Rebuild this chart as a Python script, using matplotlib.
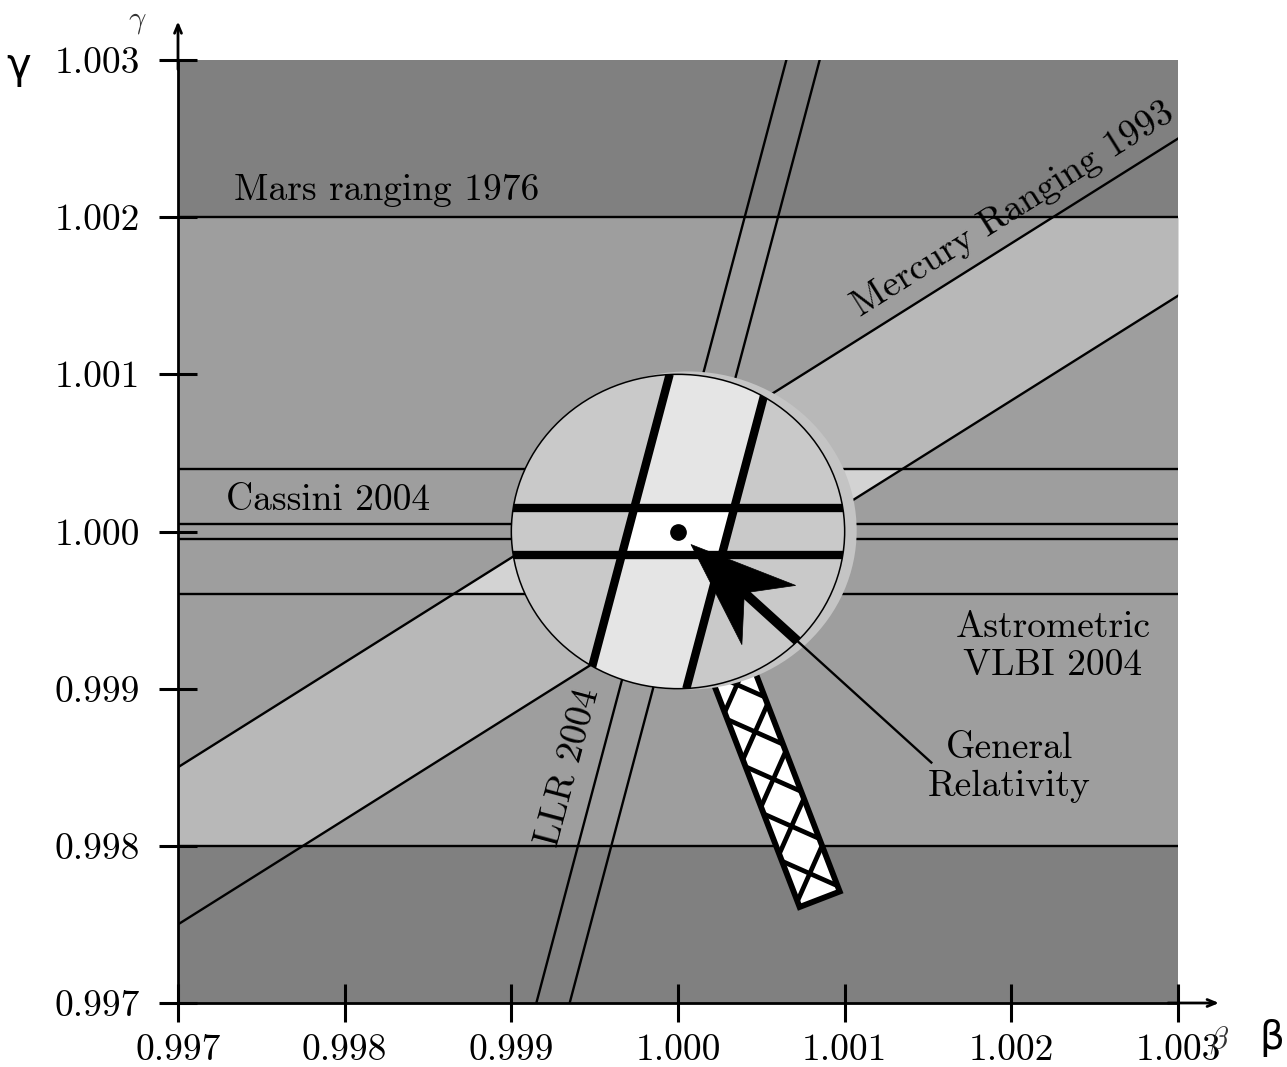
import numpy as np
import matplotlib
matplotlib.use("Agg")
import matplotlib.pyplot as plt
from matplotlib.patches import Ellipse, Polygon
from matplotlib.lines import Line2D

plt.rcParams['mathtext.fontset'] = 'cm'

# ---------------- data ----------------
beta_ticks = [0.997, 0.998, 0.999, 1.000, 1.001, 1.002, 1.003]
gamma_ticks = [0.997, 0.998, 0.999, 1.000, 1.001, 1.002, 1.003]
tick_labels = ["0.997", "0.998", "0.999", "1.000", "1.001", "1.002", "1.003"]

mars_gamma = [0.998, 1.002]          # Mars ranging 1976
vlbi_gamma = [0.9996, 1.0004]        # Astrometric VLBI 2004
cassini_gamma = [0.99995, 1.00005]   # Cassini 2004
mercury_slope = 2.0 / 3.0            # gamma-1 = slope*(beta-1) +/- halfwidth
mercury_halfwidth = 0.0005
llr_slope = 0.25                     # beta-1 = slope*(gamma-1) +/- halfwidth
llr_halfwidth = 0.0001
gr_point = (1.0, 1.0)                # General Relativity
zoom_radius = 0.001                  # magnifier lens (data units)
zoom_gamma_halfwidth = 0.00015       # magnified Cassini band
zoom_llr_halfwidth = 0.0003          # magnified LLR band

# ---------------- figure ----------------
fig = plt.figure(figsize=(12.87, 10.67), dpi=100)
ax = fig.add_axes([178 / 1287, 64 / 1067, 1000 / 1287, 943 / 1067])
lo_lim, hi_lim = beta_ticks[0], beta_ticks[-1]
ax.set_xlim(lo_lim, hi_lim)
ax.set_ylim(gamma_ticks[0], gamma_ticks[-1])

C_OUT = '#808080'
C_MARS = '#9e9e9e'
C_MERC = '#b8b8b8'
C_MERC_VLBI = '#d3d3d3'
ax.set_facecolor(C_OUT)

FONT = 'cmr10'
FS = 27

# bands
ax.axhspan(mars_gamma[0], mars_gamma[1], color=C_MARS, lw=0, zorder=0.5)
xs = np.linspace(lo_lim, hi_lim, 1201)
m_lo = 1 + mercury_slope * (xs - 1) - mercury_halfwidth
m_hi = 1 + mercury_slope * (xs - 1) + mercury_halfwidth
a = np.maximum(m_lo, mars_gamma[0]); b = np.minimum(m_hi, mars_gamma[1])
ax.fill_between(xs, a, b, where=b > a, interpolate=True, color=C_MERC, lw=0, zorder=0.6)
a2 = np.maximum(m_lo, vlbi_gamma[0]); b2 = np.minimum(m_hi, vlbi_gamma[1])
ax.fill_between(xs, a2, b2, where=b2 > a2, interpolate=True, color=C_MERC_VLBI, lw=0, zorder=0.7)

# thin lines
LW = 1.7
for g in mars_gamma + vlbi_gamma + cassini_gamma:
    ax.axhline(g, color='black', lw=LW, zorder=2)
ax.plot(xs, m_lo, color='black', lw=LW, zorder=2)
ax.plot(xs, m_hi, color='black', lw=LW, zorder=2)
gs = np.array([gamma_ticks[0], gamma_ticks[-1]])
ax.plot(1 + llr_slope * (gs - 1) - llr_halfwidth, gs, color='black', lw=LW, zorder=2)
ax.plot(1 + llr_slope * (gs - 1) + llr_halfwidth, gs, color='black', lw=LW, zorder=2)

def to_disp(p):
    return ax.transData.transform(np.atleast_2d(p))

def to_data(P):
    return ax.transData.inverted().transform(np.atleast_2d(P))

def line_angle(p1, p2):
    d = to_disp([p1, p2])
    return np.degrees(np.arctan2(d[1, 1] - d[0, 1], d[1, 0] - d[0, 0]))

# labels
ax.text(0.99825, 1.00217, "Mars ranging 1976", ha='center', va='center',
        fontsize=FS, family=FONT, zorder=3)
ax.text(0.99790, 1.00020, "Cassini 2004", ha='center', va='center',
        fontsize=FS, family=FONT, zorder=3)
ax.text(1.00225, 0.99927, "Astrometric\nVLBI 2004", ha='center', va='center',
        fontsize=FS, family=FONT, zorder=3, linespacing=1.2)
ax.text(1.00199, 0.99850, "General\nRelativity", ha='center', va='center',
        fontsize=FS, family=FONT, zorder=3, linespacing=1.2)
ang_m = line_angle((lo_lim, 1 + mercury_slope * (lo_lim - 1)), (hi_lim, 1 + mercury_slope * (hi_lim - 1)))
ax.text(1.00201, 1.00205, "Mercury Ranging 1993", ha='center', va='center', rotation=ang_m,
        rotation_mode='anchor', fontsize=FS, family=FONT, zorder=3)
ang_l = line_angle((1 + llr_slope * (gs[0] - 1), gs[0]), (1 + llr_slope * (gs[1] - 1), gs[1]))
ax.text(0.99934, 0.99850, "LLR 2004", ha='center', va='center', rotation=ang_l,
        rotation_mode='anchor', fontsize=FS, family=FONT, zorder=3)

# ---------------- magnifier ----------------
cx, cy = gr_point
C = to_disp(gr_point)[0]
# handle
HANDLE_END = (1.00085, 0.99766)
E = to_disp(HANDLE_END)[0]
ua = (E - C) / np.linalg.norm(E - C)
un = np.array([-ua[1], ua[0]])
hw = 21.5
hpts = np.array([C + hw * un, E + hw * un, E - hw * un, C - hw * un])
handle = Polygon(to_data(hpts), closed=True, facecolor='white', edgecolor='none', zorder=4)
ax.add_patch(handle)
for k in range(-6, 6):
    P0 = C + (214.7 + 50.6 * k) * ua
    for sgn in (1, -1):
        seg = np.array([P0 - 70 * (ua + sgn * un), P0 + 70 * (ua + sgn * un)])
        sd = to_data(seg)
        ln = Line2D(sd[:, 0], sd[:, 1], color='black', lw=3.4, zorder=4.1)
        ax.add_line(ln)
        ln.set_clip_path(handle)
ax.add_patch(Polygon(to_data(hpts), closed=True, facecolor='none', edgecolor='black',
                     lw=4.2, joinstyle='miter', zorder=4.2))

# shadow ring
shadow_off = to_data(C + np.array([10.0, 1.0]))[0]
ax.add_patch(Ellipse(shadow_off, 2 * zoom_radius * 1.012, 2 * zoom_radius * 1.012,
                     facecolor='#c4c4c4', edgecolor='none', zorder=4.6))
lens = Ellipse(gr_point, 2 * zoom_radius, 2 * zoom_radius, facecolor='#c9c9c9',
               edgecolor='none', zorder=5)
ax.add_patch(lens)
# magnified LLR band
gg = np.array([cy - zoom_radius, cy + zoom_radius])
bl = cx + llr_slope * (gg - cy) - zoom_llr_halfwidth
br = cx + llr_slope * (gg - cy) + zoom_llr_halfwidth
p = Polygon([[bl[0], gg[0]], [br[0], gg[0]], [br[1], gg[1]], [bl[1], gg[1]]],
            closed=True, facecolor='#e5e5e5', edgecolor='none', zorder=5.1)
ax.add_patch(p); p.set_clip_path(lens)
gi = np.array([cy - zoom_gamma_halfwidth, cy + zoom_gamma_halfwidth])
il = cx + llr_slope * (gi - cy) - zoom_llr_halfwidth
ir = cx + llr_slope * (gi - cy) + zoom_llr_halfwidth
p = Polygon([[il[0], gi[0]], [ir[0], gi[0]], [ir[1], gi[1]], [il[1], gi[1]]],
            closed=True, facecolor='white', edgecolor='none', zorder=5.2)
ax.add_patch(p); p.set_clip_path(lens)
TH = 6.0
for g in gi:
    ln, = ax.plot([cx - zoom_radius, cx + zoom_radius], [g, g], color='black', lw=TH,
                  solid_capstyle='butt', zorder=5.3)
    ln.set_clip_path(lens)
for bb in (bl, br):
    ln, = ax.plot(bb, gg, color='black', lw=TH, solid_capstyle='butt', zorder=5.3)
    ln.set_clip_path(lens)
ax.add_patch(Ellipse(gr_point, 2 * zoom_radius, 2 * zoom_radius, facecolor='none',
                     edgecolor='black', lw=1.1, zorder=5.4))
ax.plot([cx], [cy], 'o', color='black', ms=11, zorder=5.5)

# arrow to GR point
LEADER_END = (1.00152, 0.99853)
tip = C + np.array([13.0, -13.0])
tip_d = to_data(tip)[0]
le = np.array(LEADER_END)
dv = le - tip_d
f = tip_d - np.array(gr_point)
qa = dv @ dv; qb = 2 * f @ dv; qc = f @ f - zoom_radius ** 2
t = (-qb + np.sqrt(qb * qb - 4 * qa * qc)) / (2 * qa)
tail_d = tip_d + t * dv
tail = to_disp(tail_d)[0]
d = (tip - tail) / np.linalg.norm(tip - tail)
n = np.array([-d[1], d[0]])
head = np.array([tip, tip - 105 * d + 40 * n, tip - 72 * d, tip - 105 * d - 40 * n])
ax.add_patch(Polygon(to_data(head), closed=True, facecolor='black', edgecolor='black',
                     lw=0.5, zorder=6))
sh = to_data(np.array([tail, tip - 70 * d]))
ax.plot(sh[:, 0], sh[:, 1], color='black', lw=7.0, solid_capstyle='butt', zorder=6)
ax.plot([tail_d[0], le[0]], [tail_d[1], le[1]], color='black', lw=LW, zorder=6)

# ---------------- axes ----------------
for s in ('top', 'right'):
    ax.spines[s].set_visible(False)
for s in ('left', 'bottom'):
    ax.spines[s].set_linewidth(2.0)
    ax.spines[s].set_zorder(7)
ax.set_xticks(beta_ticks, tick_labels)
ax.set_yticks(gamma_ticks, tick_labels)
for lab in ax.get_xticklabels() + ax.get_yticklabels():
    lab.set_fontfamily(FONT)
    lab.set_fontsize(FS)
ax.tick_params(direction='inout', length=27, width=2.2, zorder=8)
ax.tick_params(axis='x', pad=9)
ax.tick_params(axis='y', pad=14)
ax.annotate('', xy=(0, 1.041), xytext=(0, 0.99), xycoords='axes fraction',
            arrowprops=dict(arrowstyle='->,head_length=0.6,head_width=0.25', lw=2.0,
                            color='black', shrinkA=0, shrinkB=0), annotation_clip=False)
ax.annotate('', xy=(1.041, 0), xytext=(0.99, 0), xycoords='axes fraction',
            arrowprops=dict(arrowstyle='->,head_length=0.6,head_width=0.25', lw=2.0,
                            color='black', shrinkA=0, shrinkB=0), annotation_clip=False)

W, H = 1287.0, 1067.0
fig.text(137 / W, 1 - 22 / H, r'$\gamma$', fontsize=22, ha='center', va='center', color='#333333')
fig.text(1219 / W, 1 - 1040 / H, r'$\beta$', fontsize=22, ha='center', va='center', color='#333333')
fig.text(19 / W, 1 - 66 / H, 'γ', fontsize=30, ha='center', va='center', family='DejaVu Sans')
fig.text(1272 / W, 1 - 1038 / H, 'β', fontsize=28, ha='center', va='center', family='DejaVu Sans')

fig.savefig('out.png', dpi=100, facecolor='white')
